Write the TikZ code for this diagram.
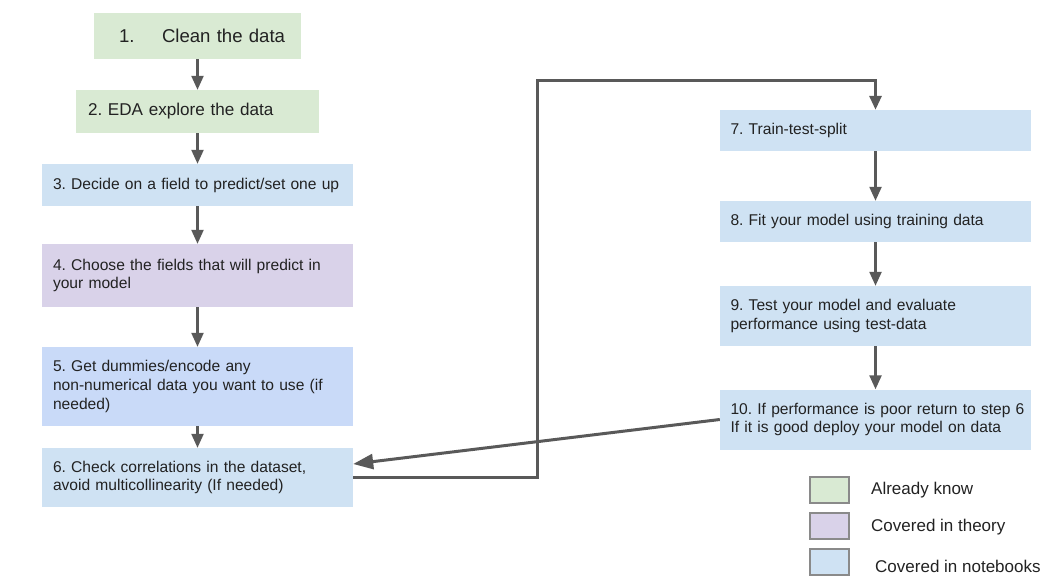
\documentclass[tikz,border=0pt]{standalone}
\usepackage{fontspec}
\setmainfont{Liberation Sans}
\usetikzlibrary{arrows.meta,calc}
\definecolor{cgreen}{HTML}{D9EAD3}
\definecolor{cpurple}{HTML}{D9D2E9}
\definecolor{cblue}{HTML}{CFE2F3}
\definecolor{cblueb}{HTML}{C9DAF8}
\definecolor{arr}{HTML}{595959}
\definecolor{txt}{HTML}{222222}
\definecolor{lgborder}{HTML}{8A8A8A}
\frenchspacing
\begin{document}
\begin{tikzpicture}[x=1pt,y=-1pt,
  box/.style={rectangle, inner ysep=0pt, inner xsep=11pt, text width=289pt,
    align=left, font=\fontsize{15.6}{18.7}\selectfont\frenchspacing, text=txt},
  rbox/.style={box, inner xsep=10.5pt, text width=290pt},
  flow/.style={draw=arr, line width=2.3pt, -{Triangle[length=14pt,width=12pt]}},
  back/.style={draw=arr, line width=3pt, -{Triangle[length=20pt,width=15pt]}},
  loopline/.style={draw=arr, line width=3pt, -{Triangle[length=14pt,width=12pt]}},
  legsq/.style={rectangle, draw=lgborder, line width=1.3pt, minimum width=39pt, minimum height=26pt, inner sep=0pt},
  legtxt/.style={anchor=west, inner sep=0pt, font=\fontsize{17}{20}\selectfont, text=txt}
]
\useasboundingbox (0,0) rectangle (1056,583);

% left column
\node[rectangle, fill=cgreen, inner sep=0pt, text width=207pt, minimum height=46pt, align=left,
  font=\fontsize{18.6}{22}\selectfont\frenchspacing, text=txt] (b1) at (197.5,36)
  {\hspace*{25pt}1.\hspace{27.5pt}Clean the data};
\node[rectangle, fill=cgreen, inner ysep=0pt, inner xsep=12pt, text width=219pt, minimum height=43pt,
  align=left, font=\fontsize{17.1}{20}\selectfont\frenchspacing, text=txt] (b2) at (197.5,111.5)
  {2. EDA explore the data};
\node[box, fill=cblue, minimum height=42pt] (b3) at (197.5,185)
  {3. Decide on a field to predict/set one up};
\node[box, fill=cpurple, minimum height=63pt] (b4) at (197.5,275.5)
  {4. Choose the fields that will predict in\\your model};
\node[box, fill=cblueb, minimum height=79pt] (b5) at (197.5,386.5)
  {5. Get dummies/encode any\\non-numerical data you want to use (if\\needed)};
\node[box, fill=cblue, minimum height=59pt] (b6) at (197.5,477.5)
  {6. Check correlations in the dataset,\\avoid multicollinearity (If needed)};

% right column
\node[rbox, fill=cblue, minimum height=41pt] (b7) at (875.5,130.5)
  {7. Train-test-split};
\node[rbox, fill=cblue, minimum height=41pt] (b8) at (875.5,221.5)
  {8. Fit your model using training data};
\node[rbox, fill=cblue, minimum height=60pt] (b9) at (875.5,316)
  {9. Test your model and evaluate\\performance using test-data};
\node[rbox, fill=cblue, minimum height=60pt] (b10) at (875.5,419.5)
  {\mbox{10. If performance is poor return to step 6}\\If it is good deploy your model on data};

% arrows
\draw[flow] (b1) -- (b2);
\draw[flow] (b2) -- (b3);
\draw[flow] (b3) -- (b4);
\draw[flow] (b4) -- (b5);
\draw[flow] (b5) -- (b6);
\draw[flow] (b7) -- (b8);
\draw[flow] (b8) -- (b9);
\draw[flow] (b9) -- (b10);

\coordinate (c1) at (537,81);
\draw[loopline] (b6.east) -| (c1) -| (b7.north);
\draw[back] (b10.west) -- ([yshift=13.5pt]b6.east);

% legend
\node[legsq, fill=cgreen] (l1) at (829.5,490) {};
\node[legsq, fill=cpurple] (l2) at (829.5,526) {};
\node[legsq, fill=cblue] (l3) at (829.5,562) {};
\node[legtxt] (t1) at (871,490) {Already know};
\node[legtxt] (t2) at (871,527) {Covered in theory};
\node[legtxt] (t3) at (875,566) {Covered in notebooks};
\end{tikzpicture}
\end{document}
